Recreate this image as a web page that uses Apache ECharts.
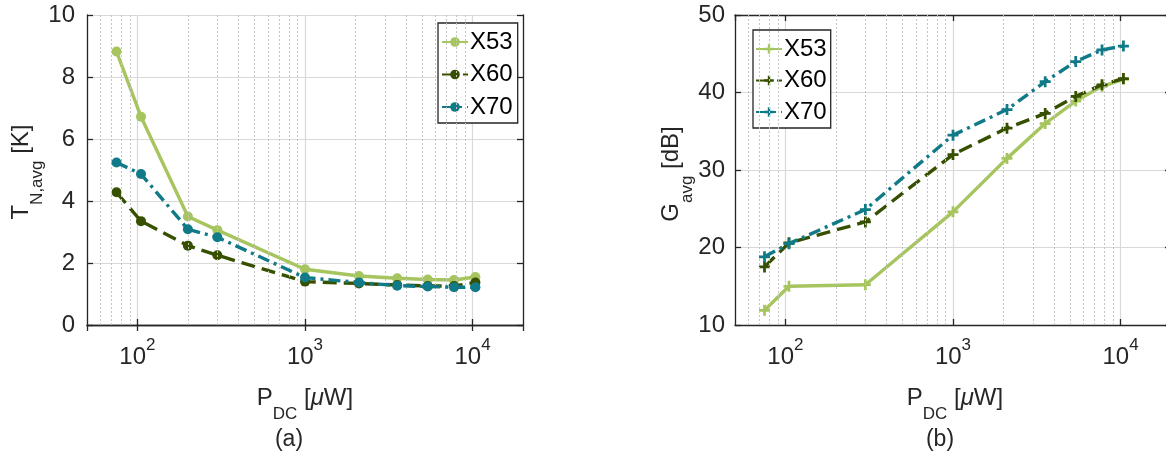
<!DOCTYPE html>
<html>
<head>
<meta charset="utf-8">
<script src="https://cdn.jsdelivr.net/npm/echarts@6/dist/echarts.min.js"></script>
<style>
html,body{margin:0;padding:0;background:#fff;}
#c{width:1166px;height:461px;}
</style>
</head>
<body>
<div id="c"></div>
<script>
// ---------- data ----------
const seriesNames = ['X53', 'X60', 'X70'];
const xLeft  = [75, 105, 200, 300, 1000, 2100, 3550, 5400, 7750, 10400];
const tX53 = [8.82, 6.72, 3.50, 3.06, 1.80, 1.58, 1.51, 1.47, 1.45, 1.55];
const tX60 = [4.28, 3.35, 2.56, 2.25, 1.40, 1.34, 1.29, 1.26, 1.26, 1.37];
const tX70 = [5.24, 4.87, 3.09, 2.83, 1.53, 1.37, 1.27, 1.24, 1.22, 1.22];
const xRight = [75, 105, 300, 1000, 2100, 3550, 5400, 7750, 10400];
const gX53 = [11.9, 15.0, 15.2, 24.6, 31.5, 36.0, 38.9, 40.8, 41.7];
const gX60 = [17.5, 20.6, 23.3, 32.0, 35.4, 37.3, 39.5, 41.0, 41.8];
const gX70 = [18.8, 20.5, 24.9, 34.5, 37.8, 41.4, 44.0, 45.5, 46.0];
const xRange = [50, 20000];
const leftY = [0, 10], leftYStep = 2;
const rightY = [10, 50], rightYStep = 10;
const captions = ['(a)', '(b)'];

// ---------- style ----------
const FONT = 'Liberation Sans, Arial, sans-serif';
const AX = '#262626';
const colors = ['#a6c55f', '#375000', '#107a88'];
const lineTypes = ['solid', [14, 7], [12, 5, 3, 5]];
const plusPath = 'path://M-1,-4L1,-4L1,-1L4,-1L4,1L1,1L1,4L-1,4L-1,1L-4,1L-4,-1L-1,-1Z';
const SUFFIX = '_b';

// minor grid positions (2..9 x 10^n inside the x range)
const minorX = [];
for (let p = 1; p <= 4; p++) {
  for (let k = 2; k <= 9; k++) {
    const v = k * Math.pow(10, p);
    if (v > xRange[0] && v < xRange[1]) minorX.push(v);
  }
}

function xFmt(v) {
  const e = Math.log10(v);
  if (Math.abs(e - Math.round(e)) > 1e-6) return '';
  return '{m|10}{s|' + Math.round(e) + '}';
}
const xRich = {
  m: {fontFamily: FONT, fontSize: 24, color: AX, lineHeight: 24, padding: [8, 0, 0, 0], verticalAlign: 'top'},
  s: {fontFamily: FONT, fontSize: 17, color: AX, lineHeight: 17, verticalAlign: 'top'}
};
const axLine = {show: true, lineStyle: {color: AX, width: 1.3}};
const axTick = {show: true, inside: true, length: 6, lineStyle: {color: AX, width: 1.3}};

function xAxes(gi) {
  return [
    {type: 'log', gridIndex: gi, position: 'bottom', min: xRange[0], max: xRange[1], logBase: 10,
     axisLine: axLine, axisTick: axTick,
     axisLabel: {formatter: xFmt, rich: xRich, margin: 12, showMinLabel: false, showMaxLabel: false},
     splitLine: {show: true, lineStyle: {color: '#d9d9d9', width: 1.2}}},
    {type: 'log', gridIndex: gi, position: 'top', min: xRange[0], max: xRange[1], logBase: 10,
     axisLine: axLine, axisTick: axTick, axisLabel: {show: false}, splitLine: {show: false}}
  ];
}
function yAxes(gi, rng, step, margin) {
  return [
    {type: 'value', gridIndex: gi, position: 'left', min: rng[0], max: rng[1], interval: step,
     axisLine: axLine, axisTick: axTick,
     axisLabel: {fontFamily: FONT, fontSize: 24, color: AX, margin: margin},
     splitLine: {show: true, lineStyle: {color: '#d9d9d9', width: 1.2}}},
    {type: 'value', gridIndex: gi, position: 'right', min: rng[0], max: rng[1], interval: step,
     axisLine: axLine, axisTick: axTick, axisLabel: {show: false}, splitLine: {show: false}}
  ];
}

function minorSeries(xi, yi) {
  return {
    type: 'line', name: '_minor' + xi, xAxisIndex: xi, yAxisIndex: yi, data: [], z: 1,
    markLine: {
      silent: true, symbol: 'none', animation: false,
      label: {show: false},
      lineStyle: {color: '#c4c4c4', width: 1, type: [2, 2]},
      data: minorX.map(v => ({xAxis: v}))
    }
  };
}

function dataSeries(name, i, xs, ys, xi, yi, symbol, size) {
  return {
    type: 'line', name: name, xAxisIndex: xi, yAxisIndex: yi, z: 3 + i,
    data: xs.map((x, j) => [x, ys[j]]),
    symbol: symbol, symbolSize: size,
    itemStyle: {color: colors[i]},
    lineStyle: {color: colors[i], width: 3.4, type: lineTypes[i]},
    emphasis: {disabled: true}
  };
}

const leftData = [tX53, tX60, tX70];
const rightData = [gX53, gX60, gX70];
const series = [minorSeries(0, 0), minorSeries(2, 2)];
seriesNames.forEach((n, i) => series.push(dataSeries(n, i, xLeft, leftData[i], 0, 0, 'circle', 10)));
seriesNames.forEach((n, i) => series.push(dataSeries(n + SUFFIX, i, xRight, rightData[i], 2, 2, plusPath, 11)));

const legendBase = {
  orient: 'vertical', backgroundColor: '#fff', borderColor: AX, borderWidth: 1.3, borderRadius: 0,
  itemWidth: 26, itemHeight: 12, itemGap: 8.5,
  textStyle: {fontFamily: FONT, fontSize: 24, color: '#000', lineHeight: 24, padding: [0, 0, 0, -3]},
  formatter: n => n.replace(SUFFIX, ''),
  selectedMode: false
};

const titleRich = {
  m: {fontFamily: FONT, fontSize: 24, color: AX, lineHeight: 26, verticalAlign: 'top'},
  s: {fontFamily: FONT, fontSize: 17, color: AX, lineHeight: 17, padding: [20, 0, 0, 0], verticalAlign: 'top'},
  i: {fontFamily: FONT, fontSize: 24, color: AX, lineHeight: 26, verticalAlign: 'top', fontStyle: 'italic'}
};
function txt(x, y, text, rot, rich, size) {
  return {
    type: 'text', x: x, y: y, rotation: rot || 0, silent: true,
    style: {text: text, rich: rich, align: 'center', verticalAlign: 'middle',
            fontFamily: FONT, fontSize: size || 24, fill: AX}
  };
}

const option = {
  animation: false,
  backgroundColor: '#fff',
  grid: [
    {left: 87, top: 15, width: 436, height: 310, outerBoundsMode: 'none'},
    {left: 735, top: 15, width: 436, height: 310, outerBoundsMode: 'none'}
  ],
  xAxis: [...xAxes(0), ...xAxes(1)],
  yAxis: [...yAxes(0, leftY, leftYStep, 12), ...yAxes(1, rightY, rightYStep, 10)],
  legend: [
    Object.assign({}, legendBase, {left: 438, top: 23, padding: [7, 5, 4, 3], data: seriesNames}),
    Object.assign({}, legendBase, {left: 753, top: 30, padding: [7, 4, 4, 2], itemGap: 7.5, data: seriesNames.map(n => n + SUFFIX)})
  ],
  graphic: [
    txt(305, 399, '{m|P}{s|DC}{m| [}{i|μ}{m|W]}', 0, titleRich),
    txt(955, 399, '{m|P}{s|DC}{m| [}{i|μ}{m|W]}', 0, titleRich),
    txt(22, 172, '{m|T}{s|N,avg}{m| [K]}', Math.PI / 2, titleRich),
    txt(672, 174, '{m|G}{s|avg}{m| [dB]}', Math.PI / 2, titleRich),
    txt(289, 440, captions[0], 0, null, 23),
    txt(940, 440, captions[1], 0, null, 23)
  ],
  series: series
};

const chart = echarts.init(document.getElementById('c'), null, {renderer: 'canvas'});
chart.setOption(option);
</script>
</body>
</html>
